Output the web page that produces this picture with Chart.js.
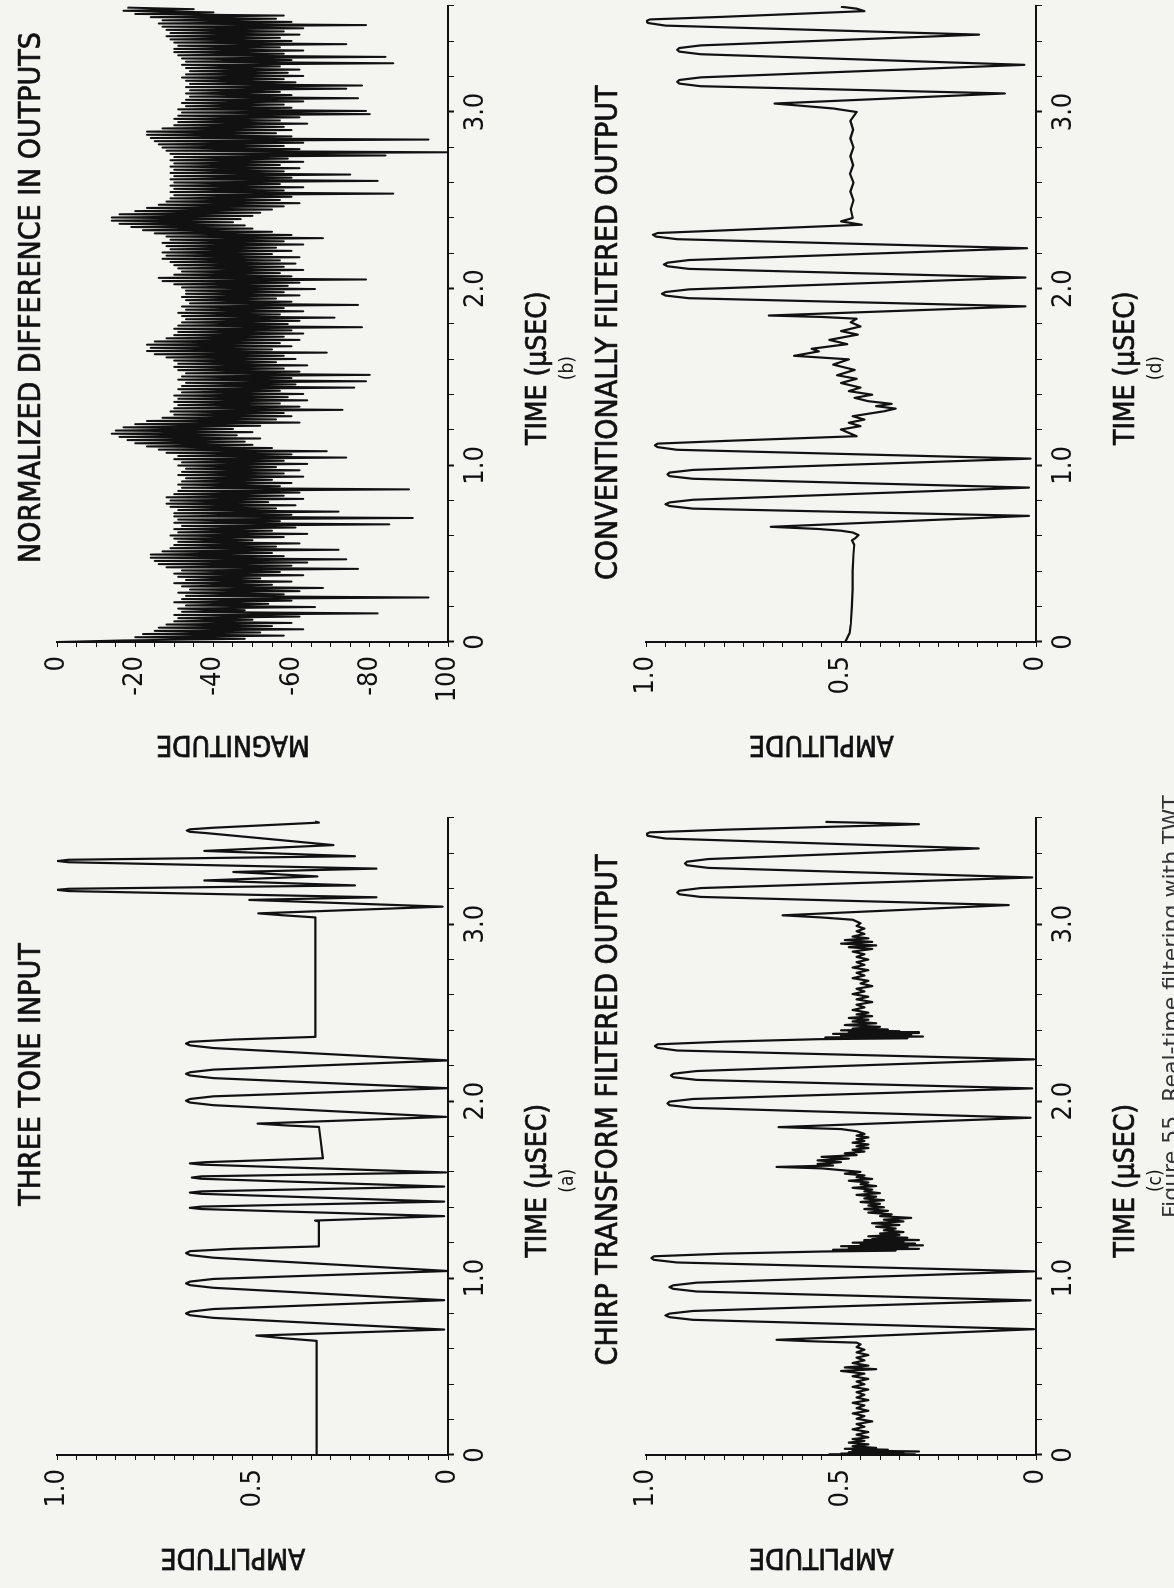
<!DOCTYPE html>
<html>
<head>
<meta charset="utf-8">
<title>Three tone input, chirp transform and conventional filter outputs</title>
<script src="https://cdn.jsdelivr.net/npm/chart.js@4.4.1/dist/chart.umd.min.js"></script>
<style>
  html, body { margin: 0; padding: 0; background: #f4f4f1; }
  body { width: 1174px; height: 1588px; position: relative; overflow: hidden; }
  /* the figure is printed sideways: lay it out landscape, then turn it */
  #sheet { position: absolute; left: 0; top: 1588px; width: 1588px; height: 1174px;
           transform-origin: 0 0; transform: rotate(-90deg); }
  .panel { position: absolute; width: 794px; height: 587px; }
  .panel canvas { display: block; }
  #caption { position: absolute; left: 370px; top: 1158px; font: 22px 'DejaVu Sans', sans-serif;
             line-height: 26px; color: #333; white-space: nowrap; }
</style>
</head>
<body>
<div id="sheet">
  <div class="panel" style="left:0;top:0"><canvas id="chartA" width="794" height="587"></canvas></div>
  <div class="panel" style="left:794px;top:0"><canvas id="chartB" width="794" height="587"></canvas></div>
  <div class="panel" style="left:0;top:587px"><canvas id="chartC" width="794" height="587"></canvas></div>
  <div class="panel" style="left:794px;top:587px"><canvas id="chartD" width="794" height="587"></canvas></div>
  <div id="caption">Figure 55. Real-time filtering with TWT</div>
</div>
<script>
// tick labels
const timeTickValues = [0, 1, 2, 3];
const timeTickLabels = ['0', '1.0', '2.0', '3.0'];
const amplitudeTickValues = [0, 0.5, 1];
const amplitudeTickLabels = ['0', '0.5', '1.0'];
const magnitudeTickValues = [0, -20, -40, -60, -80, -100];
const magnitudeTickLabels = ['0', '-20', '-40', '-60', '-80', '-100'];

// (a) three tone input: [time µs, amplitude]
const threeToneInput = [
  [0,0.336],[0.645,0.336],[0.66,0.42],[0.675,0.49],[0.709,0.01],
  [0.775,0.60],[0.79,0.66],[0.80,0.67],[0.81,0.66],[0.825,0.60],[0.875,0.01],
  [0.945,0.60],[0.96,0.66],[0.97,0.67],[0.98,0.66],[0.995,0.60],[1.04,0.0],
  [1.115,0.60],[1.13,0.66],[1.141,0.67],[1.152,0.66],[1.165,0.55],[1.179,0.33],
  [1.32,0.33],[1.325,0.34],
  [1.35,0.01],[1.39,0.63],[1.397,0.66],[1.404,0.63],[1.432,0.01],
  [1.476,0.63],[1.483,0.66],[1.49,0.63],[1.517,0.01],
  [1.561,0.63],[1.568,0.655],[1.575,0.63],[1.597,0.005],
  [1.641,0.63],[1.648,0.66],[1.655,0.62],[1.677,0.32],
  [1.854,0.33],[1.862,0.41],[1.873,0.487],[1.911,0.005],
  [1.977,0.60],[1.992,0.66],[2.002,0.67],[2.012,0.66],[2.027,0.60],[2.073,0.0],
  [2.13,0.60],[2.145,0.66],[2.154,0.67],[2.163,0.66],[2.178,0.60],[2.23,0.0],
  [2.30,0.60],[2.315,0.66],[2.325,0.67],[2.335,0.66],[2.348,0.55],[2.363,0.339],
  [3.038,0.339],[3.05,0.42],[3.061,0.485],[3.099,0.014],
  [3.137,0.508],[3.152,0.183],[3.187,0.97],[3.194,1.0],[3.200,0.97],[3.219,0.238],
  [3.247,0.623],[3.27,0.334],[3.295,0.549],[3.314,0.183],[3.350,0.97],[3.357,0.998],
  [3.364,0.97],[3.384,0.238],[3.414,0.623],[3.447,0.293],
  [3.515,0.62],[3.522,0.66],[3.529,0.668],[3.536,0.66],[3.545,0.60],[3.574,0.33],[3.58,0.34]
];

// (b) normalized difference in outputs, dB, one sample every diffStepUs
const diffStepUs = 0.009;
const normalizedDifferenceDb = [
  0,-17,-48,-20,-58,-22,-52,-25,-63,-26,-55,-28,-60,-30,-50,-31,-62,-30,-82,-32,
  -48,-31,-66,-33,-54,-30,-60,-32,-95,-33,-58,-31,-62,-34,-68,-32,-55,-30,-60,-33,
  -52,-31,-63,-30,-57,-32,-77,-28,-60,-26,-64,-25,-74,-24,-58,-24,-55,-27,-72,-29,
  -56,-30,-62,-31,-50,-30,-58,-29,-64,-31,-55,-30,-61,-32,-85,-30,-57,-31,-91,-30,
  -60,-30,-72,-31,-56,-29,-61,-28,-54,-29,-63,-28,-58,-30,-62,-31,-90,-32,-57,-31,
  -60,-32,-55,-33,-63,-31,-58,-32,-62,-33,-56,-31,-64,-32,-58,-30,-74,-31,-60,-28,
  -69,-26,-55,-23,-50,-20,-48,-18,-52,-16,-46,-14,-50,-15,-45,-17,-52,-20,-62,-23,
  -56,-27,-60,-30,-58,-29,-73,-30,-62,-31,-57,-30,-64,-31,-59,-30,-63,-32,-57,-31,
  -76,-32,-61,-33,-79,-31,-60,-32,-80,-33,-62,-31,-58,-30,-64,-31,-56,-30,-61,-28,
  -58,-25,-69,-23,-55,-24,-60,-23,-57,-25,-62,-28,-58,-30,-63,-31,-60,-30,-78,-31,
  -59,-32,-62,-33,-71,-32,-57,-31,-63,-33,-58,-32,-77,-34,-60,-33,-56,-32,-62,-33,
  -58,-33,-66,-32,-59,-30,-62,-27,-79,-26,-60,-30,-57,-32,-63,-31,-58,-30,-61,-29,
  -57,-27,-62,-28,-55,-27,-60,-29,-56,-28,-63,-27,-58,-29,-68,-28,-60,-25,-55,-22,
  -50,-19,-48,-16,-45,-14,-47,-14,-50,-16,-52,-20,-55,-23,-58,-26,-62,-28,-57,-29,
  -60,-30,-86,-29,-58,-30,-63,-29,-57,-30,-82,-29,-60,-30,-75,-29,-58,-30,-62,-29,
  -57,-30,-63,-29,-59,-30,-84,-29,-100,-28,-62,-27,-58,-26,-63,-25,-95,-24,-60,-23,
  -56,-23,-60,-27,-58,-30,-64,-31,-57,-30,-62,-31,-80,-32,-79,-31,-60,-33,-58,-32,
  -63,-33,-77,-34,-60,-33,-57,-34,-74,-33,-78,-34,-61,-33,-58,-32,-63,-33,-59,-34,
  -62,-33,-57,-32,-86,-33,-60,-32,-84,-31,-58,-30,-63,-30,-57,-31,-74,-30,-60,-29,
  -57,-28,-62,-29,-58,-28,-63,-27,-79,-26,-60,-27,-56,-24,-58,-20,-40,-17,-35,-18
];

// (c) chirp transform filtered output: [time µs, amplitude]
const chirpFilteredOutput = [
  [0,0.53],[0.004,0.31],[0.008,0.50],[0.012,0.34],[0.016,0.48],[0.02,0.30],[0.025,0.47],
  [0.03,0.38],[0.035,0.49],[0.04,0.41],[0.05,0.47],[0.06,0.43],[0.07,0.48],[0.08,0.44],
  [0.09,0.47],[0.10,0.43],[0.115,0.46],[0.13,0.43],[0.145,0.47],[0.16,0.44],[0.175,0.46],
  [0.19,0.42],[0.205,0.46],[0.22,0.44],[0.235,0.47],[0.25,0.43],[0.265,0.46],[0.28,0.44],
  [0.295,0.47],[0.31,0.43],[0.325,0.46],[0.34,0.44],[0.355,0.46],[0.37,0.43],[0.385,0.47],
  [0.40,0.44],[0.415,0.46],[0.43,0.43],[0.445,0.47],[0.46,0.44],[0.475,0.50],[0.485,0.41],
  [0.495,0.49],[0.505,0.43],[0.52,0.47],[0.535,0.44],[0.55,0.46],[0.565,0.43],[0.58,0.46],
  [0.595,0.44],[0.61,0.46],[0.625,0.45],[0.635,0.46],
  [0.643,0.58],[0.651,0.665],[0.711,0.005],
  [0.764,0.88],[0.779,0.94],[0.789,0.95],[0.799,0.94],[0.814,0.88],[0.874,0.014],
  [0.924,0.87],[0.939,0.93],[0.949,0.94],[0.959,0.93],[0.974,0.87],[1.038,0.005],
  [1.088,0.92],[1.103,0.98],[1.113,0.986],[1.123,0.98],[1.138,0.80],[1.15,0.55],
  [1.155,0.36],[1.16,0.52],[1.165,0.30],[1.17,0.48],[1.175,0.33],[1.18,0.50],[1.185,0.29],
  [1.19,0.45],[1.195,0.31],[1.20,0.47],[1.205,0.34],[1.21,0.44],[1.215,0.30],[1.22,0.42],
  [1.228,0.33],[1.236,0.43],[1.244,0.35],[1.252,0.40],[1.26,0.34],[1.27,0.39],[1.28,0.36],
  [1.29,0.41],[1.30,0.35],[1.31,0.42],[1.32,0.34],[1.33,0.39],[1.34,0.32],[1.35,0.40],
  [1.36,0.37],[1.37,0.43],[1.38,0.38],[1.39,0.44],[1.40,0.39],[1.41,0.43],[1.42,0.40],
  [1.43,0.45],[1.44,0.39],[1.45,0.44],[1.46,0.41],[1.47,0.46],[1.48,0.40],[1.49,0.44],
  [1.50,0.42],[1.51,0.47],[1.52,0.41],[1.53,0.45],[1.54,0.43],[1.55,0.48],[1.56,0.42],
  [1.57,0.46],[1.58,0.44],[1.59,0.49],[1.60,0.45],[1.61,0.50],[1.62,0.55],[1.628,0.665],
  [1.636,0.52],[1.645,0.56],[1.655,0.50],[1.665,0.56],[1.675,0.48],[1.685,0.55],[1.695,0.46],
  [1.705,0.49],[1.715,0.44],[1.725,0.47],[1.735,0.43],[1.745,0.46],[1.755,0.43],[1.765,0.47],
  [1.775,0.44],[1.785,0.46],[1.795,0.43],[1.805,0.46],[1.815,0.44],[1.83,0.46],[1.842,0.50],
  [1.853,0.66],[1.906,0.014],
  [1.962,0.88],[1.977,0.94],[1.987,0.945],[1.997,0.94],[2.012,0.88],[2.072,0.01],
  [2.12,0.87],[2.135,0.93],[2.145,0.936],[2.155,0.93],[2.17,0.87],[2.236,0.005],
  [2.286,0.92],[2.301,0.97],[2.311,0.977],[2.321,0.97],[2.336,0.80],[2.35,0.56],
  [2.355,0.33],[2.36,0.54],[2.365,0.29],[2.37,0.50],[2.375,0.32],[2.38,0.52],[2.385,0.30],
  [2.39,0.48],[2.395,0.35],[2.40,0.50],[2.405,0.38],[2.41,0.47],[2.42,0.40],[2.43,0.49],
  [2.44,0.41],[2.45,0.47],[2.46,0.43],[2.47,0.48],[2.48,0.42],[2.49,0.46],[2.50,0.43],
  [2.515,0.47],[2.53,0.44],[2.545,0.46],[2.56,0.42],[2.575,0.46],[2.59,0.43],[2.605,0.47],
  [2.62,0.44],[2.635,0.46],[2.65,0.42],[2.665,0.45],[2.68,0.43],[2.695,0.47],[2.71,0.44],
  [2.725,0.46],[2.74,0.43],[2.755,0.47],[2.77,0.44],[2.785,0.46],[2.80,0.43],[2.815,0.46],
  [2.83,0.44],[2.845,0.47],[2.86,0.42],[2.87,0.48],[2.88,0.41],[2.89,0.50],[2.90,0.42],
  [2.91,0.49],[2.92,0.43],[2.93,0.47],[2.945,0.44],[2.96,0.46],[2.975,0.44],[2.99,0.46],
  [3.005,0.45],[3.025,0.47],[3.038,0.55],[3.05,0.65],[3.108,0.07],
  [3.154,0.86],[3.169,0.915],[3.179,0.92],[3.189,0.915],[3.204,0.86],[3.264,0.01],
  [3.318,0.84],[3.333,0.895],[3.343,0.90],[3.353,0.895],[3.368,0.84],[3.428,0.147],
  [3.484,0.95],[3.499,0.995],[3.509,1.0],[3.519,0.99],[3.534,0.80],[3.56,0.367],
  [3.565,0.30],[3.572,0.42],[3.578,0.54]
];

// (d) conventionally filtered output: [time µs, amplitude]
const conventionalFilteredOutput = [
  [0,0.489],[0.05,0.478],[0.1,0.475],[0.2,0.472],[0.3,0.47],[0.4,0.47],[0.5,0.468],
  [0.55,0.466],[0.575,0.472],[0.59,0.462],[0.605,0.455],[0.62,0.47],[0.63,0.50],[0.64,0.56],
  [0.652,0.68],[0.714,0.018],
  [0.755,0.88],[0.77,0.94],[0.78,0.95],[0.79,0.94],[0.805,0.88],[0.874,0.018],
  [0.924,0.88],[0.939,0.94],[0.949,0.945],[0.959,0.94],[0.974,0.88],[1.038,0.014],
  [1.088,0.92],[1.103,0.97],[1.113,0.977],[1.123,0.97],[1.138,0.80],[1.165,0.46],
  [1.184,0.48],[1.203,0.50],[1.222,0.45],[1.241,0.48],[1.259,0.44],[1.278,0.47],[1.306,0.39],
  [1.321,0.36],[1.335,0.41],[1.348,0.37],[1.363,0.43],[1.382,0.465],[1.40,0.42],[1.42,0.48],
  [1.44,0.45],[1.466,0.50],[1.49,0.46],[1.51,0.51],[1.54,0.465],[1.57,0.52],[1.60,0.48],
  [1.62,0.62],[1.645,0.557],[1.66,0.575],[1.686,0.484],[1.71,0.53],[1.74,0.457],[1.76,0.50],
  [1.786,0.45],[1.81,0.475],[1.83,0.46],[1.84,0.55],[1.848,0.685],[1.90,0.027],
  [1.946,0.89],[1.961,0.95],[1.971,0.959],[1.981,0.95],[1.996,0.89],[2.063,0.027],
  [2.112,0.89],[2.127,0.945],[2.137,0.954],[2.147,0.945],[2.162,0.89],[2.229,0.023],
  [2.28,0.92],[2.295,0.975],[2.305,0.982],[2.315,0.97],[2.33,0.80],[2.362,0.447],
  [2.381,0.50],[2.40,0.47],[2.45,0.475],[2.5,0.468],[2.55,0.476],[2.6,0.468],[2.65,0.477],
  [2.7,0.469],[2.75,0.476],[2.8,0.468],[2.85,0.476],[2.9,0.469],[2.95,0.476],[3.0,0.46],
  [3.02,0.52],[3.035,0.60],[3.048,0.67],[3.105,0.08],
  [3.146,0.86],[3.161,0.915],[3.171,0.92],[3.181,0.915],[3.196,0.86],[3.267,0.03],
  [3.327,0.86],[3.342,0.915],[3.352,0.92],[3.362,0.915],[3.377,0.86],[3.438,0.146],
  [3.489,0.95],[3.504,0.995],[3.514,1.0],[3.524,0.99],[3.539,0.80],[3.571,0.44],
  [3.585,0.46],[3.596,0.50]
];

const INK = '#111';
const FONT = "'DejaVu Sans Condensed', 'Liberation Sans Narrow', sans-serif";

function labelFor(values, labels, v) {
  const i = values.findIndex(t => Math.abs(t - v) < 1e-6);
  return i < 0 ? '' : labels[i];
}

// slightly heavier text, like the printed lettering
function inkText(ctx, s, x, y) {
  ctx.fillText(s, x, y);
  ctx.strokeText(s, x, y);
}

// titles and axis captions, placed where the printed figure has them
const panelText = {
  id: 'panelText',
  afterDraw(chart, args, o) {
    const { ctx, chartArea } = chart;
    const x = chart.scales.x, y = chart.scales.y;
    ctx.save();
    ctx.fillStyle = INK;
    ctx.strokeStyle = INK;
    ctx.lineWidth = 0.7;
    ctx.textAlign = 'center';
    ctx.textBaseline = 'middle';
    ctx.font = '30px ' + FONT;
    inkText(ctx, o.title, x.getPixelForValue(o.titleAt), chartArea.top + o.titleDy);
    const tx = x.getPixelForValue(1.55);
    ctx.font = '28px ' + FONT;
    inkText(ctx, 'TIME (µSEC)', tx, chartArea.bottom + 91);
    ctx.font = '19px ' + FONT;
    ctx.fillText(o.tag, tx, chartArea.bottom + 120);
    ctx.translate(chartArea.left - 101, y.getPixelForValue(o.yTitleAt));
    ctx.rotate(-Math.PI / 2);
    ctx.font = '28px ' + FONT;
    inkText(ctx, o.yTitle, 0, 0);
    ctx.restore();
  }
};

function makePanel(canvasId, points, box, yAxis, text, lineWidth) {
  const yW = 60, xH = 40;
  new Chart(document.getElementById(canvasId), {
    type: 'scatter',
    data: {
      datasets: [{
        data: points.map(p => ({ x: p[0], y: p[1] })),
        showLine: true,
        borderColor: INK,
        borderWidth: lineWidth,
        borderJoinStyle: 'round',
        pointRadius: 0,
        tension: 0
      }]
    },
    options: {
      responsive: false,
      animation: false,
      devicePixelRatio: 1,
      layout: { padding: { left: box.left - yW, top: box.top, right: 794 - box.right, bottom: 587 - box.bottom - xH } },
      plugins: { legend: { display: false }, tooltip: { enabled: false }, panelText: text },
      scales: {
        x: {
          type: 'linear', min: 0, max: 3.6,
          afterFit: s => { s.height = xH; },
          border: { display: true, color: INK, width: 2 },
          grid: { drawOnChartArea: false, tickLength: 6, tickColor: INK,
                  tickWidth: c => (c.tick && Math.abs(c.tick.value - Math.round(c.tick.value)) < 1e-6) ? 2 : 1 },
          ticks: { stepSize: 0.2, autoSkip: false, maxRotation: 0, padding: 6, color: INK,
                   font: { family: FONT, size: 27 },
                   callback: v => labelFor(timeTickValues, timeTickLabels, v) }
        },
        y: {
          type: 'linear', min: yAxis.min, max: yAxis.max,
          afterFit: s => { s.width = yW; },
          border: { display: true, color: INK, width: 2 },
          grid: { drawOnChartArea: false, tickLength: 5, tickColor: INK, tickWidth: 1 },
          ticks: { stepSize: yAxis.step, autoSkip: false, padding: 9, color: INK,
                   font: { family: FONT, size: 27 },
                   callback: v => labelFor(yAxis.values, yAxis.labels, v) }
        }
      }
    },
    plugins: [panelText]
  });
}

const amplitudeAxis = { min: 0, max: 1, step: 0.05, values: amplitudeTickValues, labels: amplitudeTickLabels };
const magnitudeAxis = { min: -100, max: 0, step: 5, values: magnitudeTickValues, labels: magnitudeTickLabels };

makePanel('chartA', threeToneInput, { left: 133, top: 57, right: 770, bottom: 448 }, amplitudeAxis,
  { title: 'THREE TONE INPUT', titleAt: 2.15, titleDy: -25, tag: '(a)', yTitle: 'AMPLITUDE', yTitleAt: 0.55 }, 2.2);

makePanel('chartB', normalizedDifferenceDb.map((v, i) => [i * diffStepUs, v]),
  { left: 152, top: 57, right: 789, bottom: 448 }, magnitudeAxis,
  { title: 'NORMALIZED DIFFERENCE IN OUTPUTS', titleAt: 1.95, titleDy: -25, tag: '(b)', yTitle: 'MAGNITUDE', yTitleAt: -45 }, 2);

makePanel('chartC', chirpFilteredOutput, { left: 133, top: 59, right: 770, bottom: 449 }, amplitudeAxis,
  { title: 'CHIRP TRANSFORM FILTERED OUTPUT', titleAt: 1.95, titleDy: -37, tag: '(c)', yTitle: 'AMPLITUDE', yTitleAt: 0.55 }, 2.2);

makePanel('chartD', conventionalFilteredOutput, { left: 152, top: 59, right: 789, bottom: 449 }, amplitudeAxis,
  { title: 'CONVENTIONALLY FILTERED OUTPUT', titleAt: 1.75, titleDy: -37, tag: '(d)', yTitle: 'AMPLITUDE', yTitleAt: 0.55 }, 2.2);
</script>
</body>
</html>
